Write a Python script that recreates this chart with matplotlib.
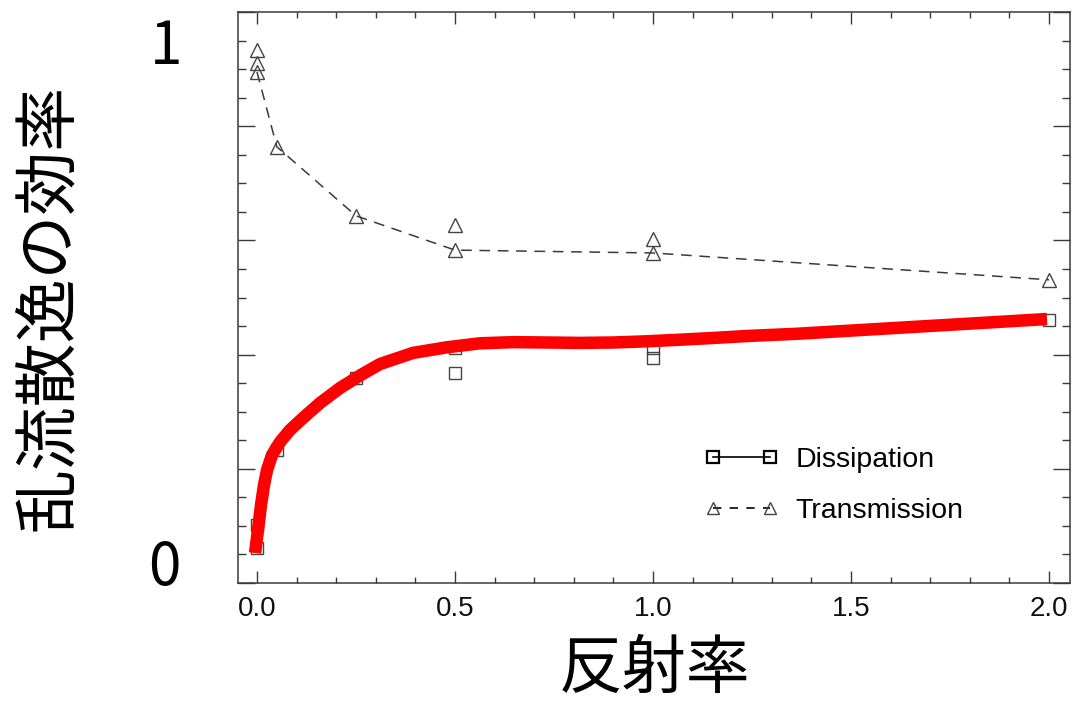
import matplotlib
matplotlib.use("Agg")
import matplotlib.pyplot as plt
from matplotlib.lines import Line2D
from matplotlib.ticker import MultipleLocator

# ---- data ----
diss_x = [0.0, 0.0, 0.05, 0.25, 0.5, 0.5, 1.0, 1.0, 2.0]
diss_y = [0.102, 0.061, 0.233, 0.359, 0.412, 0.368, 0.412, 0.394, 0.461]

trans_x = [0.0, 0.0, 0.0, 0.05, 0.25, 0.5, 0.5, 1.0, 1.0, 2.0]
trans_y = [0.933, 0.911, 0.895, 0.764, 0.643, 0.627, 0.583, 0.602, 0.578, 0.531]
trans_line_x = [0.0, 0.05, 0.25, 0.5, 1.0, 2.0]
trans_line_y = [0.895, 0.764, 0.643, 0.583, 0.578, 0.531]

fit_x = [-0.005, 0.0025, 0.0101, 0.0177, 0.0253, 0.0379, 0.0581, 0.0833, 0.1162,
         0.1591, 0.2096, 0.2601, 0.3106, 0.3939, 0.4798, 0.5631, 0.6465, 0.7323,
         0.8157, 0.8990, 0.9848, 1.0682, 1.1515, 1.2374, 1.3636, 1.5480, 1.6742,
         1.8005, 1.9268, 1.9949]
fit_y = [0.0525, 0.0928, 0.1366, 0.1716, 0.1979, 0.2242, 0.2469, 0.2680, 0.2890,
         0.3152, 0.3415, 0.3634, 0.3835, 0.4030, 0.4128, 0.4198, 0.4218, 0.4212,
         0.4205, 0.4212, 0.4233, 0.4261, 0.4291, 0.4326, 0.4365, 0.4440, 0.4492,
         0.4543, 0.4595, 0.4623]

xticks = [0.0, 0.5, 1.0, 1.5, 2.0]
xtick_labels = ["0.0", "0.5", "1.0", "1.5", "2.0"]
legend_labels = ["Dissipation", "Transmission"]
xlabel = "反射率"
ylabel = "乱流散逸の効率"
ytop_label = "1"
ybot_label = "0"

# ---- figure ----
W, H = 1072, 702
fig = plt.figure(figsize=(W / 100, H / 100), dpi=100)
ax = fig.add_axes([238 / W, (H - 583) / H, (1070 - 238) / W, (583 - 12) / H])

gray = "#3a3a3a"
mk_edge = "#444444"

ax.plot(trans_line_x, trans_line_y, color=gray, lw=1.1, ls=(0, (7, 5)), zorder=2)
ax.plot(diss_x, diss_y, ls="none", marker="s", ms=8.6, mfc="none",
        mec=mk_edge, mew=1.0, zorder=3)
ax.plot(trans_x, trans_y, ls="none", marker="^", ms=9.4, mfc="none",
        mec=mk_edge, mew=1.0, zorder=3)
ax.plot(fit_x, fit_y, color="red", lw=9.0, solid_capstyle="butt",
        solid_joinstyle="round", zorder=4)

ax.set_xlim(-0.048, 2.053)
ax.set_ylim(0, 1)
ax.set_xticks(xticks)
ax.set_xticklabels(xtick_labels, fontfamily="Liberation Sans", fontsize=20, color="#111111")
ax.xaxis.set_minor_locator(MultipleLocator(0.1))
ax.yaxis.set_major_locator(MultipleLocator(0.2))
ax.yaxis.set_minor_locator(MultipleLocator(0.05))
ax.tick_params(axis="both", which="both", direction="in", top=True, right=True,
               color=gray, width=1.0)
ax.tick_params(axis="x", which="major", length=8.6, pad=9)
ax.tick_params(axis="x", which="minor", length=4)
ax.tick_params(axis="y", which="major", length=12.2)
ax.tick_params(axis="y", which="minor", length=6.1)
ax.tick_params(axis="y", which="both", labelleft=False)
for s in ax.spines.values():
    s.set_color(gray)
    s.set_linewidth(1.1)

handles = [
    Line2D([], [], color="black", lw=1.2, marker="s", ms=8.6, mfc="none",
           mec="black", mew=1.6),
    Line2D([], [], color="black", lw=1.2, ls=(0, (5, 5)), marker="^", ms=8.6,
           mfc="none", mec=mk_edge, mew=1.0),
]
ax.legend(handles, legend_labels, loc="upper left",
          bbox_to_anchor=((704 - 238) / 832, (583 - 447) / 571),
          frameon=False, numpoints=2, handlelength=2.63, handletextpad=0.58,
          labelspacing=0.87, borderpad=0, borderaxespad=0,
          prop={"family": "Liberation Sans", "size": 20.5})

cjk = ["Noto Sans CJK JP", "DejaVu Sans"]
fig.text(655 / W, 1 - 670 / H, xlabel, family=cjk, fontsize=46,
         ha="center", va="center")
fig.text(48 / W, 1 - 307 / H, ylabel, family=cjk, fontsize=46,
         rotation=90, ha="center", va="center")
fig.text(166 / W, 1 - 48 / H, ytop_label, family=cjk, fontsize=42,
         ha="center", va="center")
fig.text(164 / W, 1 - 568 / H, ybot_label, family=cjk, fontsize=42,
         ha="center", va="center")

fig.savefig("out.png", dpi=100)
